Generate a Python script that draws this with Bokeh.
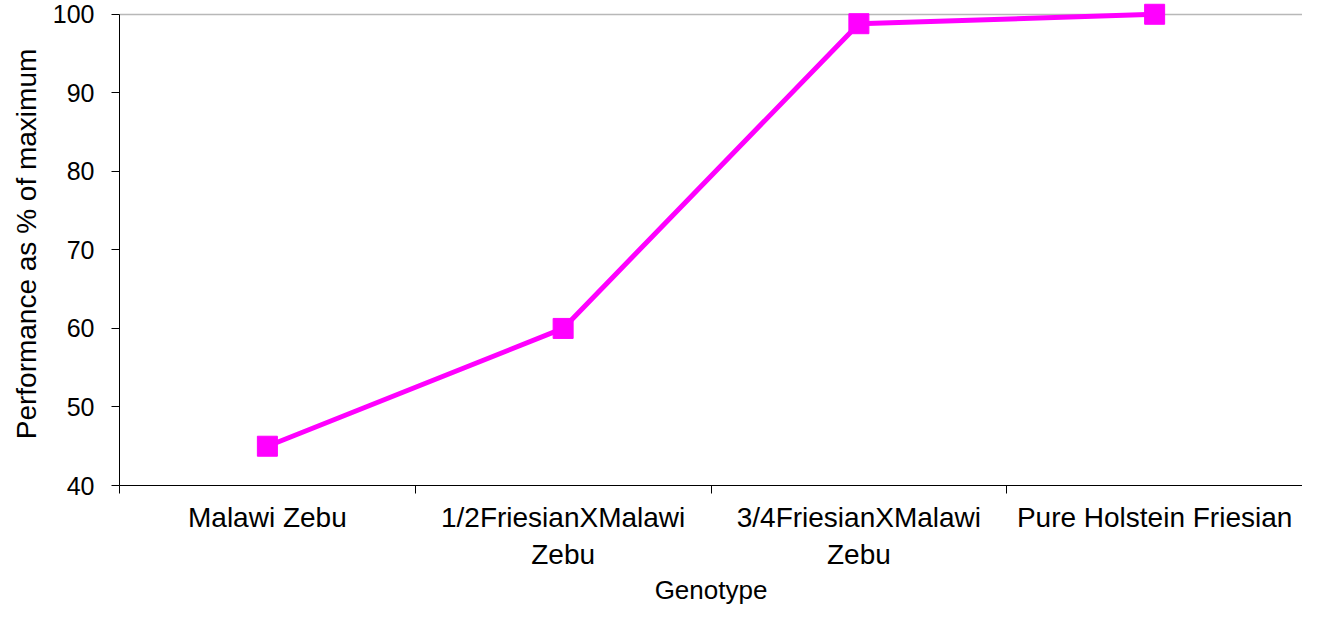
from bokeh.plotting import figure
from bokeh.models import Range1d, FixedTicker
from bokeh.embed import file_html
from bokeh.resources import INLINE

categories = ["Malawi Zebu", "1/2FriesianXMalawi\nZebu", "3/4FriesianXMalawi\nZebu", "Pure Holstein Friesian"]
performance = [45, 60, 98.8, 100]
y_ticks = [40, 50, 60, 70, 80, 90, 100]

xs = [i + 0.5 for i in range(len(categories))]

p = figure(width=1302, height=607, output_backend="svg", toolbar_location=None,
           x_range=Range1d(0, len(categories)), y_range=Range1d(40, 101.5),
           min_border_left=119, min_border_right=0, min_border_top=2, min_border_bottom=110)
p.outline_line_color = None
p.background_fill_color = "white"
p.border_fill_color = "white"

p.line(xs, performance, line_color="#FF00FF", line_width=5)
p.scatter(xs, performance, marker="square", size=20, fill_color="#FF00FF", line_color="#FF00FF")

font = "Liberation Sans"
# x axis
p.xaxis.ticker = FixedTicker(ticks=xs, minor_ticks=list(range(len(categories) + 1)))
p.xaxis.major_label_overrides = {x: c for x, c in zip(xs, categories)}
p.xaxis.major_tick_out = 0
p.xaxis.major_tick_in = 0
p.xaxis.minor_tick_out = 8
p.xaxis.minor_tick_in = 0
p.xaxis.minor_tick_line_color = "black"
p.xaxis.major_label_text_font = font
p.xaxis.major_label_text_font_size = "28px"
p.xaxis.major_label_text_color = "black"
p.xaxis.major_label_standoff = 8
p.xaxis.axis_label = "Genotype"
p.xaxis.axis_label_text_font = font
p.xaxis.axis_label_text_font_size = "26px"
p.xaxis.axis_label_text_font_style = "normal"
p.xaxis.axis_label_text_color = "black"
p.xaxis.axis_label_standoff = 2
p.xaxis.axis_line_color = "black"

# y axis
p.yaxis.ticker = FixedTicker(ticks=y_ticks, minor_ticks=[])
p.yaxis.bounds = (40, 100)
p.yaxis.major_tick_out = 8
p.yaxis.major_tick_in = 0
p.yaxis.major_tick_line_color = "black"
p.yaxis.major_label_text_font = font
p.yaxis.major_label_text_font_size = "25px"
p.yaxis.major_label_text_color = "black"
p.yaxis.major_label_standoff = 17
p.yaxis.axis_label = "Performance as % of maximum"
p.yaxis.axis_label_text_font = font
p.yaxis.axis_label_text_font_size = "28px"
p.yaxis.axis_label_text_font_style = "normal"
p.yaxis.axis_label_text_color = "black"
p.yaxis.axis_label_standoff = 8
p.yaxis.axis_line_color = "black"

p.xgrid.visible = False
p.ygrid.ticker = FixedTicker(ticks=[100])
p.ygrid.grid_line_color = "#b8b8b8"
p.ygrid.grid_line_width = 1.5

open("out.html", "w").write(file_html(p, INLINE))
